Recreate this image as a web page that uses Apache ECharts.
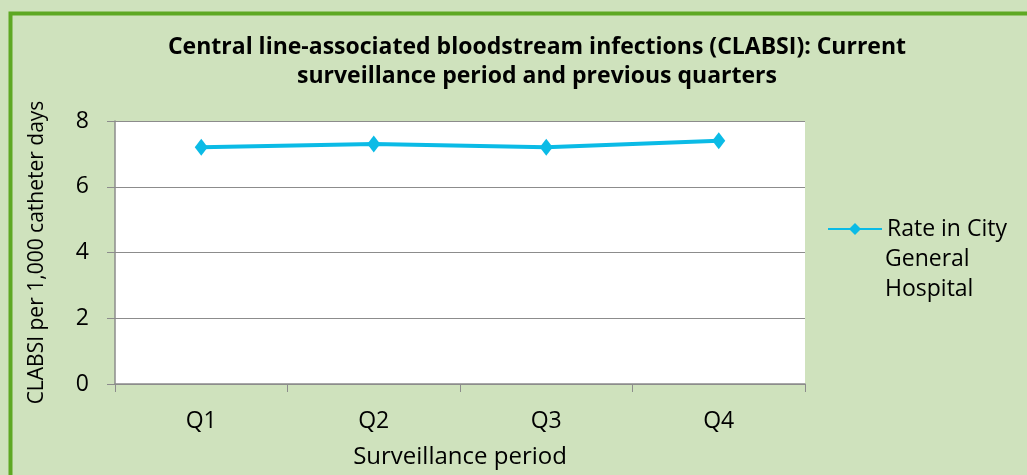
<!DOCTYPE html>
<html>
<head>
<meta charset="utf-8">
<script src="https://cdn.jsdelivr.net/npm/echarts@6/dist/echarts.min.js"></script>
<style>
  html, body { margin: 0; padding: 0; background: #cfe2bd; }
  #chart { width: 1027px; height: 475px; }
</style>
</head>
<body>
<div id="chart"></div>
<script>
var categories = ['Q1', 'Q2', 'Q3', 'Q4']
var rateValues = [7.2, 7.3, 7.2, 7.4]
var seriesName = 'Rate in City General Hospital'

var chart = echarts.init(document.getElementById('chart'))
chart.setOption({
  backgroundColor: '#cfe2bd',
  textStyle: { fontFamily: 'Open Sans' },
  graphic: [{
    type: 'rect',
    shape: { x: 10.5, y: 13.5, width: 1100, height: 600 },
    style: { fill: 'none', stroke: '#5ea823', lineWidth: 4 },
    silent: true
  }, {
    // rest of the wrapped legend label
    type: 'text',
    left: 885,
    top: 244,
    style: { text: 'General\nHospital', font: '23px "Open Sans"', fill: '#000', lineHeight: 30 },
    silent: true
  }],
  title: {
    text: 'Central line-associated bloodstream infections (CLABSI): Current\nsurveillance period and previous quarters',
    left: 532,
    top: 28,
    textAlign: 'center',
    textStyle: { fontSize: 23, fontWeight: 'bold', color: '#000', lineHeight: 29 }
  },
  legend: {
    data: [seriesName],
    left: 827,
    top: 214,
    padding: 0,
    itemWidth: 54,
    itemHeight: 15,
    itemGap: 4,
    formatter: function() { return 'Rate in City' },
    textStyle: { fontSize: 23, color: '#000', lineHeight: 30 }
  },
  grid: { left: 115, right: 222, top: 121, bottom: 91 },
  xAxis: {
    type: 'category',
    data: categories,
    boundaryGap: true,
    name: 'Surveillance period',
    nameLocation: 'middle',
    nameGap: 61,
    nameTextStyle: { fontSize: 24, color: '#000' },
    axisLine: { lineStyle: { color: '#8c8c8c', width: 1.5 } },
    axisTick: { show: true, length: 8, alignWithLabel: false, lineStyle: { color: '#8c8c8c' } },
    axisLabel: { fontSize: 23, color: '#000', margin: 26 }
  },
  yAxis: {
    type: 'value',
    min: 0,
    max: 8,
    interval: 2,
    name: 'CLABSI per 1,000 catheter days',
    nameLocation: 'middle',
    nameGap: 67,
    nameTextStyle: { fontSize: 21, color: '#000' },
    axisLine: { show: true, lineStyle: { color: '#8c8c8c', width: 1.5 } },
    axisTick: { show: true, length: 8, lineStyle: { color: '#8c8c8c' } },
    axisLabel: { fontSize: 23, color: '#000', margin: 26 },
    splitLine: { lineStyle: { color: '#8c8c8c', width: 1.2 } }
  },
  series: [{
    name: seriesName,
    type: 'line',
    data: rateValues,
    symbol: 'diamond',
    symbolSize: [13, 17],
    lineStyle: { color: '#0bbbe6', width: 4 },
    itemStyle: { color: '#0bbbe6' }
  }]
})

// white plot area
chart.setOption({
  grid: { show: true, backgroundColor: '#ffffff', borderWidth: 0 }
})
</script>
</body>
</html>
